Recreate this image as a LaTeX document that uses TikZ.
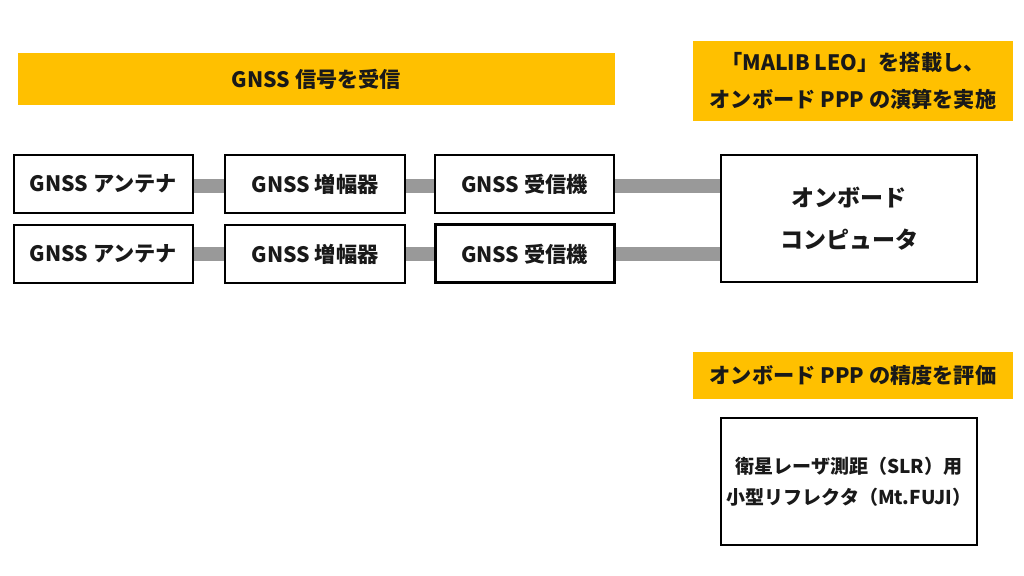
\documentclass[tikz,border=0pt]{standalone}
\usepackage{fontspec}
\setmainfont{Noto Sans CJK JP}
\begin{document}
\begin{tikzpicture}[x=0.5pt,y=-0.5pt,
  box/.style={draw=black,line width=1pt,fill=white,inner sep=0pt,font=\fontsize{10.6}{12}\selectfont\bfseries,text=black!90},
  thickbox/.style={box,line width=1.5pt},
  label/.style={fill=yellowc,inner sep=0pt,font=\fontsize{10.6}{18.5}\selectfont\bfseries,text=black!90,align=center},
  conn/.style={draw=grayc,line width=7pt}]
\definecolor{yellowc}{HTML}{FFC000}
\definecolor{grayc}{HTML}{999999}
\useasboundingbox[fill=white] (0,0) rectangle (1024,576);
% yellow labels
\node[label,minimum width=298.5pt,minimum height=26pt] (y1) at (316.5,79) {GNSS 信号を受信};
\node[label,minimum width=160pt,minimum height=40pt] (y2) at (853,81) {「MALIB LEO」を搭載し、\\オンボード PPP の演算を実施};
\node[label,minimum width=160pt,minimum height=23.5pt] (y3) at (853,375.5) {オンボード PPP の精度を評価};
% boxes
\node[box,minimum width=89.5pt,minimum height=29pt] (a1) at (103.5,184) {GNSS アンテナ};
\node[box,minimum width=89.5pt,minimum height=29pt] (a2) at (103.5,254) {GNSS アンテナ};
\node[box,minimum width=90pt,minimum height=29pt] (m1) at (315,184) {GNSS 増幅器};
\node[box,minimum width=90pt,minimum height=29pt] (m2) at (315,254) {GNSS 増幅器};
\node[box,minimum width=89.5pt,minimum height=29pt] (r1) at (524.5,184) {GNSS 受信機};
\node[thickbox,minimum width=89.5pt,minimum height=29pt] (r2) at (524.5,254) {GNSS 受信機};
\node[box,minimum width=128pt,minimum height=63.5pt,align=center,font=\fontsize{11.5}{21}\selectfont\bfseries] (comp) at (849,218.5) {オンボード\\コンピュータ};
\node[box,minimum width=128pt,minimum height=63.5pt,align=center,font=\fontsize{9.5}{15.5}\selectfont\bfseries] (slr) at (849,481.5) {衛星レーザ測距（SLR）用\\小型リフレクタ（Mt.FUJI）};
% connectors
\draw[conn] ([yshift=-1pt]a1.east) -- ([yshift=-1pt]m1.west);
\draw[conn] ([yshift=-1pt]m1.east) -- ([yshift=-1pt]r1.west);
\draw[conn] ([yshift=-1pt]r1.east) -- ([yshift=-1pt]r1.east -| comp.west);
\draw[conn] (a2.east) -- (m2.west);
\draw[conn] (m2.east) -- (r2.west);
\draw[conn] (r2.east) -- (r2.east -| comp.west);
\end{tikzpicture}
\end{document}
